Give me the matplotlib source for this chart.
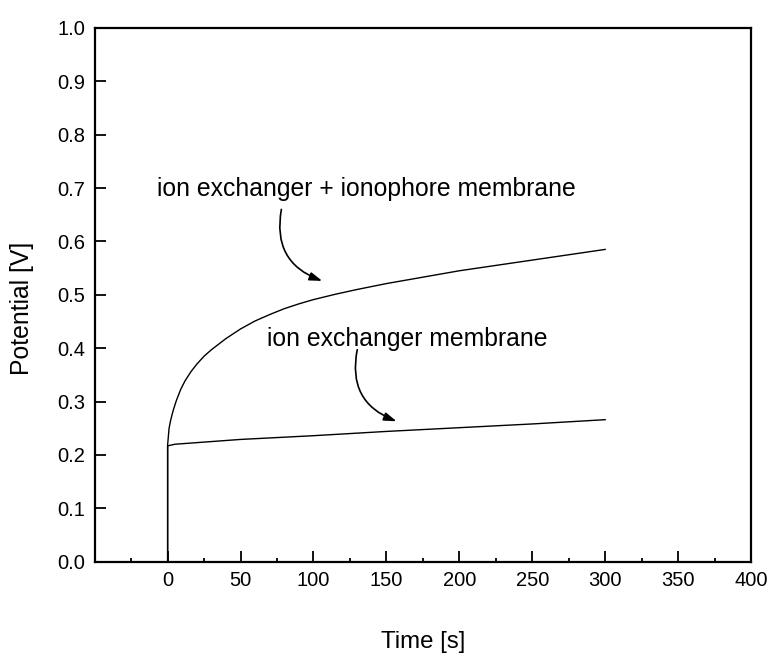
import matplotlib
matplotlib.use("Agg")
import matplotlib.pyplot as plt
from matplotlib.ticker import MultipleLocator

plt.rcParams["font.family"] = ["Liberation Sans", "DejaVu Sans"]

# Potential transients (time in s, potential in V)
t_ionophore = [0, 0, 1, 2, 3, 4, 6, 9, 12, 16, 20, 25, 30, 40, 50, 60, 70,
               80, 90, 100, 115, 130, 150, 175, 200, 225, 250, 275, 300]
v_ionophore = [0.0, 0.219, 0.250, 0.264, 0.275, 0.285, 0.302, 0.323, 0.339,
               0.356, 0.370, 0.385, 0.397, 0.418, 0.436, 0.451, 0.463, 0.474,
               0.483, 0.491, 0.501, 0.510, 0.521, 0.533, 0.545, 0.555, 0.565,
               0.575, 0.585]

t_exchanger = [0, 0, 5, 50, 100, 150, 200, 250, 300]
v_exchanger = [0.0, 0.217, 0.220, 0.229, 0.236, 0.244, 0.251, 0.258, 0.266]

label_ionophore = "ion exchanger + ionophore membrane"
label_exchanger = "ion exchanger membrane"

fig = plt.figure(figsize=(7.7, 6.6), dpi=100)
ax = fig.add_axes([0.123, 0.149, 0.8523, 0.8087])

ax.plot(t_ionophore, v_ionophore, color="black", lw=1.0)
ax.plot(t_exchanger, v_exchanger, color="black", lw=1.0)

ax.set_xlim(-50, 400)
ax.set_ylim(0.0, 1.0)
ax.set_xticks(range(0, 401, 50))
ax.xaxis.set_minor_locator(MultipleLocator(25))
ax.yaxis.set_major_locator(MultipleLocator(0.1))
ax.yaxis.set_major_formatter(plt.FormatStrFormatter("%.1f"))

for s in ax.spines.values():
    s.set_linewidth(1.6)

ax.tick_params(which="both", direction="in", top=False, right=False,
               labelsize=14.5, width=1.3)
ax.tick_params(which="major", length=8, pad=7)
ax.tick_params(which="minor", length=3)

ax.set_xlabel("Time [s]", fontsize=17.3, labelpad=29)
ax.set_ylabel("Potential [V]", fontsize=17.8)
ax.yaxis.set_label_coords(-0.093, 0.475)

arrow = dict(arrowstyle="-|>,head_length=0.75,head_width=0.25", color="black",
             lw=1.2, shrinkA=0, shrinkB=0, connectionstyle="arc3,rad=0.42")

ax.text(-7, 0.699, label_ionophore, fontsize=17.8, va="center", ha="left")
ax.annotate("", xy=(106, 0.526), xytext=(78, 0.660), arrowprops=arrow)

ax.text(68, 0.417, label_exchanger, fontsize=17.8, va="center", ha="left")
ax.annotate("", xy=(157, 0.263), xytext=(130, 0.397), arrowprops=arrow)

fig.savefig("out.png", dpi=100)
